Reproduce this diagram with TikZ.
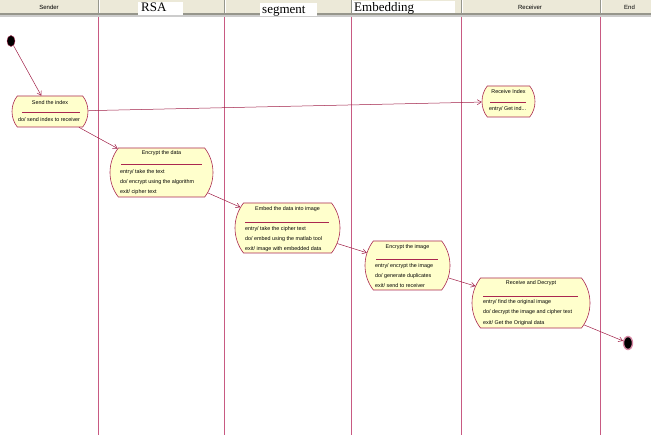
\documentclass[tikz,border=0pt]{standalone}
\usepackage{fontspec}
\setmainfont{Liberation Sans}
\newfontfamily\serifrm{Liberation Serif}
\usetikzlibrary{shapes.misc,shapes.geometric,arrows.meta}
\definecolor{lanec}{RGB}{200,90,130}
\definecolor{boxc}{RGB}{170,40,80}
\definecolor{boxfill}{RGB}{255,255,204}
\definecolor{hdr}{RGB}{236,233,216}
\definecolor{hdrline}{RGB}{150,150,140}
\definecolor{arrc}{RGB}{160,30,70}
\tikzset{
  state/.style={rounded rectangle, rounded rectangle arc length=75, draw=boxc, fill=boxfill, line width=0.6pt, inner sep=0pt},
  sttl/.style={font=\fontsize{5.4}{6}\selectfont, inner sep=0pt},
  sent/.style={font=\fontsize{5.4}{6}\selectfont, inner sep=0pt, anchor=base west},
  sepline/.style={draw=boxc, line width=0.6pt},
  flow/.style={draw=arrc, line width=0.5pt, -{Straight Barb[length=4pt,width=5pt]}},
  lane/.style={draw=lanec, line width=0.7pt},
  hlab/.style={font=\fontsize{6}{6}\selectfont, inner sep=0pt},
  slab/.style={font=\serifrm\fontsize{13}{13}\selectfont, inner sep=0pt, anchor=base west},
  wbox/.style={fill=white, draw=none},
}
\begin{document}
\begin{tikzpicture}[x=1pt,y=-1pt]
\useasboundingbox (0,0) rectangle (651,435);
% header
\fill[hdr] (0,0) rectangle (651,14);
\fill[hdrline] (0,13.5) rectangle (651,15.5);
\fill[black!20] (0,15.5) rectangle (651,17);
\foreach \x in {98,224,351,461,600} {
  \draw[hdrline, line width=0.6pt] (\x,0) -- (\x,13.5);
  \draw[white, line width=0.5pt] (\x+1,0) -- (\x+1,13.5);
}
% lanes
\foreach \x in {98,224,351,461,600} {
  \draw[lane] (\x,17) -- (\x,435);
}
% header labels
\node[hlab] (hsender) at (49,7) {Sender};
\fill[wbox] (138,2) rectangle (183,15);
\node[slab] (hrsa) at (141,12) {RSA};
\fill[wbox] (260,3) rectangle (317,16);
\node[slab] (hseg) at (262,13.5) {segment};
\fill[wbox] (352,1) rectangle (455,13);
\node[slab] (hemb) at (354,12) {Embedding};
\node[hlab] (hrecv) at (530,7) {Receiver};
\node[hlab, anchor=west] (hend) at (624,7) {End};

% start / end
\node[ellipse, fill=black, draw=arrc, line width=0.4pt, minimum width=8pt, minimum height=11pt, inner sep=0pt] (start) at (11,41) {};
\node[ellipse, fill=black, draw=lanec!70, line width=1.4pt, minimum width=9pt, minimum height=13pt, inner sep=0pt] (final) at (628,343) {};

% states
\node[state, minimum width=76pt, minimum height=31pt] (send) at (50,111.5) {};
\node[sttl] (sendt) at (50,103) {Send the index};
\draw[sepline] (22,112) -- (80,112);
\node[sent] (sende1) at (18,122) {do/ send index to receiver};

\node[state, minimum width=53pt, minimum height=31pt] (ridx) at (508.5,101.5) {};
\node[sttl] (ridxt) at (508.5,91.5) {Receive Index};
\draw[sepline] (490,102.5) -- (526,102.5);
\node[sent] (ridxe1) at (489,111) {entry/ Get ind...};

\node[state, minimum width=103pt, minimum height=49pt] (enc) at (161.5,172.5) {};
\node[sttl] (enct) at (161.5,153.5) {Encrypt the data};
\draw[sepline] (121,164) -- (202,164);
\node[sent] (ence1) at (120,174) {entry/ take the text};
\node[sent] (ence2) at (120,183.5) {do/ encrypt using the algorithm};
\node[sent] (ence3) at (120,194) {exit/ cipher text};

\node[state, minimum width=105pt, minimum height=50pt] (emb) at (287.5,228) {};
\node[sttl] (embt) at (287.5,209) {Embed the data into image};
\draw[sepline] (245,222) -- (329,222);
\node[sent] (embe1) at (245,231) {entry/ take the cipher text};
\node[sent] (embe2) at (245,241) {do/ embed using the matlab tool};
\node[sent] (embe3) at (245,251) {exit/ image with embedded data};

\node[state, minimum width=85pt, minimum height=49pt] (eimg) at (407.5,265.5) {};
\node[sttl] (eimgt) at (407.5,247) {Encrypt the image};
\draw[sepline] (376,259) -- (438,259);
\node[sent] (eimge1) at (375,268) {entry/ encrypt the image};
\node[sent] (eimge2) at (375,278) {do/ generate duplicates};
\node[sent] (eimge3) at (375,288) {exit/ send to receiver};

\node[state, minimum width=118pt, minimum height=50pt] (rdec) at (531,303) {};
\node[sttl] (rdect) at (531,283.5) {Receive and Decrypt};
\draw[sepline] (483,296) -- (578,296);
\node[sent] (rdece1) at (483,304) {entry/ find the original image};
\node[sent] (rdece2) at (483,314) {do/ decrypt the image and cipher text};
\node[sent] (rdece3) at (483,324.5) {exit/ Get the Original data};

% flows
\draw[flow] (start) -- (send);
\draw[flow] (send) -- (ridx);
\draw[flow] (send) -- (enc);
\draw[flow] (enc) -- (emb);
\draw[flow] (emb) -- (eimg);
\draw[flow] (eimg) -- (rdec);
\draw[flow] (rdec) -- (final);
\end{tikzpicture}
\end{document}
